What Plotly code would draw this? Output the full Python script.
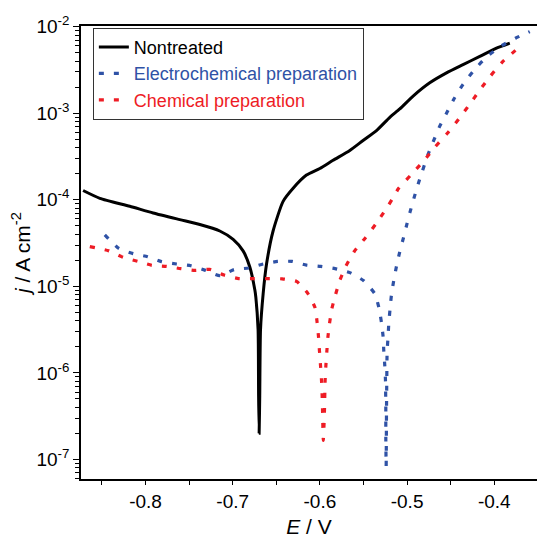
import plotly.graph_objects as go

# ---------------- data (E in V, j in A cm^-2) ----------------
E_non = [-0.8716, -0.8524, -0.8180, -0.7913, -0.7607, -0.7377, -0.7148, -0.6995,
         -0.6881, -0.6803, -0.6746, -0.6735, -0.6709, -0.6703, -0.6697, -0.6690,
         -0.6681, -0.6651, -0.6612, -0.6537, -0.6422, -0.6307, -0.6154, -0.6001,
         -0.5849, -0.5657, -0.5505, -0.5351, -0.5198, -0.5084, -0.4931, -0.4740,
         -0.4548, -0.4358, -0.4166, -0.3975, -0.3822]
j_non = [1.28e-4, 1.04e-4, 8.41e-5, 7.05e-5, 5.90e-5, 5.18e-5, 4.36e-5, 3.49e-5,
         2.57e-5, 1.66e-5, 9.06e-6, 7.53e-6, 3.16e-6, 5.42e-7, 2.01e-7, 5.42e-7,
         3.16e-6, 8.20e-6, 1.81e-5, 4.36e-5, 9.59e-5, 1.36e-4, 1.93e-4, 2.30e-4,
         2.86e-4, 3.72e-4, 4.85e-4, 6.31e-4, 8.97e-4, 1.12e-3, 1.58e-3, 2.25e-3,
         2.93e-3, 3.65e-3, 4.54e-3, 5.66e-3, 6.46e-3]

E_ec = [-0.8467, -0.8306, -0.8142, -0.7977, -0.7817, -0.7644, -0.7480, -0.7312,
        -0.7148, -0.6984, -0.6815, -0.6651, -0.6486, -0.6319, -0.6154, -0.5990,
        -0.5826, -0.5657, -0.5497, -0.5370, -0.5321, -0.5294, -0.5275, -0.5267,
        -0.5256, -0.5248, -0.5244, -0.5244, -0.5240, -0.5236, -0.5233, -0.5229,
        -0.5218, -0.5210, -0.5195, -0.5179, -0.5153, -0.5122, -0.5084, -0.5041,
        -0.5000, -0.4969, -0.4923, -0.4874, -0.4823, -0.4766, -0.4702, -0.4633,
        -0.4548, -0.4461, -0.4358, -0.4232, -0.4089, -0.3917, -0.3757, -0.3593]
j_ec = [3.94e-5, 2.74e-5, 2.39e-5, 2.20e-5, 1.93e-5, 1.81e-5, 1.73e-5, 1.53e-5,
        1.33e-5, 1.56e-5, 1.63e-5, 1.81e-5, 1.94e-5, 1.94e-5, 1.76e-5, 1.70e-5,
        1.60e-5, 1.44e-5, 1.16e-5, 8.20e-6, 5.53e-6, 3.83e-6, 2.62e-6, 1.77e-6,
        1.22e-6, 8.26e-7, 3.82e-7, 1.78e-7, 8.36e-8, 3.82e-7, 8.26e-7, 1.77e-6,
        2.62e-6, 3.72e-6, 5.53e-6, 8.04e-6, 1.17e-5, 1.70e-5, 2.51e-5, 3.65e-5,
        5.35e-5, 7.05e-5, 1.03e-4, 1.51e-4, 2.17e-4, 3.21e-4, 4.65e-4, 6.82e-4,
        1.00e-3, 1.47e-3, 2.16e-3, 3.14e-3, 4.47e-3, 6.01e-3, 7.36e-3, 8.77e-3]

E_ch = [-0.8639, -0.8421, -0.8257, -0.8092, -0.7928, -0.7759, -0.7595, -0.7431,
        -0.7263, -0.7099, -0.6930, -0.6766, -0.6601, -0.6433, -0.6268, -0.6135,
        -0.6055, -0.6032, -0.6016, -0.6005, -0.5993, -0.5982, -0.5975, -0.5970,
        -0.5967, -0.5961, -0.5952, -0.5947, -0.5940, -0.5932, -0.5921, -0.5909,
        -0.5890, -0.5864, -0.5821, -0.5772, -0.5703, -0.5608, -0.5477, -0.5353,
        -0.5241, -0.5138, -0.5101, -0.4958, -0.4817, -0.4682, -0.4541, -0.4407,
        -0.4289, -0.4170, -0.4048, -0.3911, -0.3757]
j_ch = [2.88e-5, 2.57e-5, 2.16e-5, 1.95e-5, 1.75e-5, 1.70e-5, 1.60e-5, 1.53e-5,
        1.57e-5, 1.35e-5, 1.23e-5, 1.23e-5, 1.23e-5, 1.22e-5, 1.14e-5, 8.20e-6,
        5.64e-6, 3.83e-6, 2.62e-6, 1.80e-6, 1.22e-6, 8.41e-7, 5.71e-7, 3.88e-7,
        2.64e-7, 1.66e-7, 2.64e-7, 3.88e-7, 8.18e-7, 1.19e-6, 1.74e-6, 2.54e-6,
        3.72e-6, 5.44e-6, 8.00e-6, 1.17e-5, 1.70e-5, 2.51e-5, 3.65e-5, 5.35e-5,
        7.83e-5, 1.15e-4, 1.34e-4, 1.93e-4, 2.75e-4, 4.04e-4, 5.83e-4, 8.59e-4,
        1.24e-3, 1.83e-3, 2.66e-3, 3.88e-3, 5.32e-3]

series_names = ["Nontreated", "Electrochemical preparation", "Chemical preparation"]
x_ticks = [-0.8, -0.7, -0.6, -0.5, -0.4]
x_ticktext = ["-0.8", "-0.7", "-0.6", "-0.5", "-0.4"]
y_exps = [-7, -6, -5, -4, -3, -2]

# ---------------- styling ----------------
BLUE = "#2f52a6"
RED = "#ee1c25"
FONT = "Liberation Sans, Arial, sans-serif"

y_tickvals = [10.0 ** e for e in y_exps]
y_ticktext = ["10<sup>%d</sup>" % e for e in y_exps]
y_minor = [m * 10.0 ** e for e in range(-8, -2) for m in range(2, 10)]

fig = go.Figure()
fig.add_trace(go.Scatter(x=E_non, y=j_non, mode="lines", name=series_names[0],
                         line=dict(color="black", width=3, shape="spline", smoothing=0.6)))
fig.add_trace(go.Scatter(x=E_ec, y=j_ec, mode="lines",
                         name='<span style="color:%s">%s</span>' % (BLUE, series_names[1]),
                         line=dict(color=BLUE, width=3.2, dash="5px,10px",
                                   shape="spline", smoothing=0.5)))
fig.add_trace(go.Scatter(x=E_ch, y=j_ch, mode="lines",
                         name='<span style="color:%s">%s</span>' % (RED, series_names[2]),
                         line=dict(color=RED, width=3.2, dash="5px,10px",
                                   shape="spline", smoothing=0.5)))

fig.update_layout(
    width=537, height=538,
    margin=dict(l=81, r=0, t=26, b=54),
    paper_bgcolor="white", plot_bgcolor="white",
    font=dict(family=FONT, size=19, color="black"),
    showlegend=True,
    legend=dict(x=0.026, y=0.996, xanchor="left", yanchor="top",
                bgcolor="white", bordercolor="#333333", borderwidth=1,
                font=dict(family=FONT, size=18, color="black"),
                tracegroupgap=0, itemwidth=30),
)

fig.update_xaxes(
    range=[-0.874, -0.351], showgrid=False, zeroline=False,
    showline=True, linecolor="black", linewidth=1.5, mirror=True,
    tickmode="array", tickvals=x_ticks, ticktext=x_ticktext,
    ticks="outside", ticklen=4, tickwidth=1.2, tickcolor="black",
    tickfont=dict(family=FONT, size=19),
    minor=dict(dtick=0.05, tick0=-0.8, ticks="outside", ticklen=4, tickwidth=1.2, tickcolor="black"),
    title=dict(text="<i>E</i> / V", font=dict(family=FONT, size=21), standoff=12),
)
fig.update_yaxes(
    type="log", range=[-7.226, -1.992], showgrid=False, zeroline=False,
    showline=True, linecolor="black", linewidth=1.5,
    tickmode="array", tickvals=y_tickvals, ticktext=y_ticktext,
    ticks="outside", ticklen=6, tickwidth=1.2, tickcolor="black",
    tickfont=dict(family=FONT, size=19),
    minor=dict(tickmode="array", tickvals=y_minor, ticks="outside", ticklen=4,
               tickwidth=1, tickcolor="black"),
    title=dict(text="<i>j</i> / A cm<sup>-2</sup>", font=dict(family=FONT, size=21), standoff=0),
)

fig.write_html("out.html")
